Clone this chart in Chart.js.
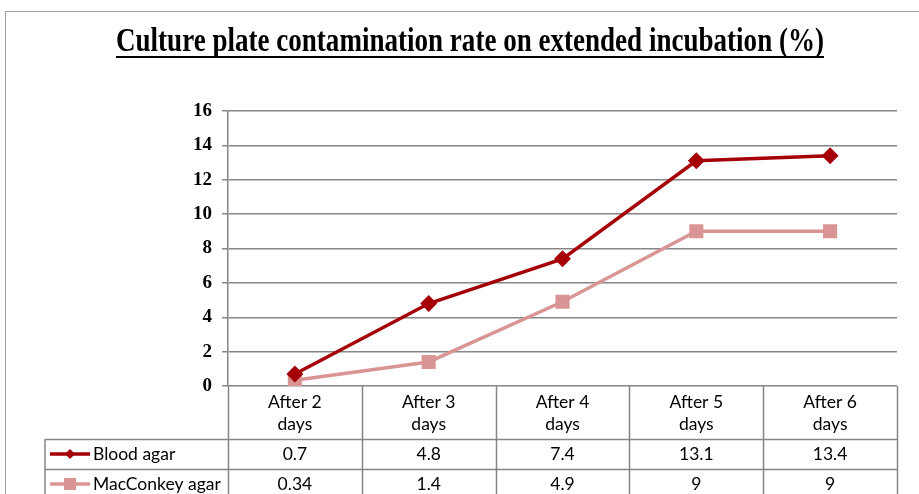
<!DOCTYPE html>
<html>
<head>
<meta charset="utf-8">
<script src="https://cdn.jsdelivr.net/npm/chart.js@4"></script>
<style>
  html, body { margin: 0; padding: 0; background: #fff; }
  #wrap { width: 919px; height: 494px; }
</style>
</head>
<body>
<div id="wrap"><canvas id="graph" width="919" height="494"></canvas></div>
<script>
const chartTitle = "Culture plate contamination rate on extended incubation (%)";
const days = [["After 2", "days"], ["After 3", "days"], ["After 4", "days"], ["After 5", "days"], ["After 6", "days"]];
const bloodAgar = [0.7, 4.8, 7.4, 13.1, 13.4];
const macConkey = [0.34, 1.4, 4.9, 9, 9];
const seriesNames = ["Blood agar", "MacConkey agar"];
const yTicks = [0, 2, 4, 6, 8, 10, 12, 14, 16];

const bloodColor = "#a50008";
const macColor = "#d99594";
const lineGray = "#868686";

// title with underline, drawn condensed like the original
const titlePlugin = {
  id: "titleUnderline",
  afterDraw(chart) {
    const ctx = chart.ctx;
    ctx.save();
    // outer chart frame
    ctx.strokeStyle = "#a0a0a0";
    ctx.lineWidth = 1;
    ctx.strokeRect(5.5, 11.5, 940, 500);
    ctx.font = "bold 33px 'Liberation Serif'";
    const w = ctx.measureText(chartTitle).width;
    const target = 708;
    const sx = target / w;
    const left = 116;
    ctx.translate(left, 51);
    ctx.scale(sx, 1);
    ctx.fillStyle = "#000";
    ctx.textBaseline = "alphabetic";
    ctx.fillText(chartTitle, 0, 0);
    ctx.restore();
    ctx.save();
    ctx.fillStyle = "#000";
    ctx.fillRect(left, 56, target, 2);
    ctx.restore();
  }
};

// data table under the plot
const tablePlugin = {
  id: "dataTable",
  afterDraw(chart) {
    const ctx = chart.ctx;
    const x = chart.scales.x;
    const area = chart.chartArea;
    const half = (x.getPixelForValue(1) - x.getPixelForValue(0)) / 2;
    const colLeft = x.getPixelForValue(0) - half;
    const colRight = x.getPixelForValue(days.length - 1) + half;
    const top = area.bottom;
    const headBottom = top + 53;
    const row1 = headBottom + 30;
    const row2 = row1 + 30;
    const legendLeft = 45;

    ctx.save();
    ctx.strokeStyle = lineGray;
    ctx.lineWidth = 1.5;
    ctx.beginPath();
    for (let i = 0; i <= days.length; i++) {
      const px = Math.round(colLeft + i * half * 2) + 0.5;
      ctx.moveTo(px, top);
      ctx.lineTo(px, row2);
    }
    ctx.moveTo(legendLeft, headBottom);
    ctx.lineTo(legendLeft, row2);
    [headBottom, row1, row2].forEach(y => {
      ctx.moveTo(legendLeft, y + 0.5);
      ctx.lineTo(colRight, y + 0.5);
    });
    ctx.stroke();

    ctx.fillStyle = "#000";
    ctx.font = "17.5px Lato";
    ctx.textAlign = "center";
    ctx.textBaseline = "middle";
    days.forEach((lab, i) => {
      const cx = x.getPixelForValue(i);
      ctx.fillText(lab[0], cx, top + 16);
      ctx.fillText(lab[1], cx, top + 38);
      ctx.fillText(String(bloodAgar[i]), cx, headBottom + 15);
      ctx.fillText(String(macConkey[i]), cx, row1 + 15);
    });

    // legend keys
    const keys = [
      { y: headBottom + 15, color: bloodColor, name: seriesNames[0], shape: "diamond" },
      { y: row1 + 15, color: macColor, name: seriesNames[1], shape: "square" }
    ];
    keys.forEach(k => {
      ctx.strokeStyle = k.color;
      ctx.fillStyle = k.color;
      ctx.lineWidth = 3.5;
      ctx.beginPath();
      ctx.moveTo(50, k.y);
      ctx.lineTo(90, k.y);
      ctx.stroke();
      ctx.beginPath();
      if (k.shape === "diamond") {
        ctx.moveTo(70, k.y - 5);
        ctx.lineTo(75, k.y);
        ctx.lineTo(70, k.y + 5);
        ctx.lineTo(65, k.y);
        ctx.closePath();
        ctx.fill();
      } else {
        ctx.fillRect(64, k.y - 6, 12, 12);
      }
      ctx.fillStyle = "#000";
      ctx.textAlign = "left";
      ctx.fillText(k.name, 93, k.y);
    });
    ctx.restore();
  }
};

const ctx = document.getElementById("graph").getContext("2d");
new Chart(ctx, {
  type: "line",
  data: {
    labels: days.map(d => d.join(" ")),
    datasets: [
      {
        label: seriesNames[0],
        data: bloodAgar,
        borderColor: bloodColor,
        backgroundColor: bloodColor,
        borderWidth: 3.5,
        pointStyle: "rectRot",
        pointRadius: 6,
        pointHoverRadius: 6,
        fill: false,
        order: 1
      },
      {
        label: seriesNames[1],
        data: macConkey,
        borderColor: macColor,
        backgroundColor: macColor,
        borderWidth: 3.5,
        pointStyle: "rect",
        pointRadius: 7.5,
        pointHoverRadius: 7.5,
        fill: false,
        order: 2
      }
    ]
  },
  options: {
    responsive: false,
    animation: false,
    devicePixelRatio: 1,
    layout: { padding: { top: 111, right: 22, bottom: 108, left: 0 } },
    plugins: {
      legend: { display: false },
      title: { display: false },
      tooltip: { enabled: false }
    },
    scales: {
      x: {
        type: "category",
        offset: true,
        display: false
      },
      y: {
        min: 0,
        max: 16,
        afterBuildTicks: (scale) => { scale.ticks = yTicks.map(v => ({ value: v })); },
        afterFit: (scale) => { scale.width = 228; },
        ticks: {
          color: "#000",
          font: { family: "'Liberation Serif'", size: 19, weight: "bold" },
          padding: 10
        },
        grid: { color: lineGray, lineWidth: 1.5, tickLength: 6 },
        border: { display: true, color: lineGray, width: 1.5 }
      }
    }
  },
  plugins: [titlePlugin, tablePlugin]
});
</script>
</body>
</html>
